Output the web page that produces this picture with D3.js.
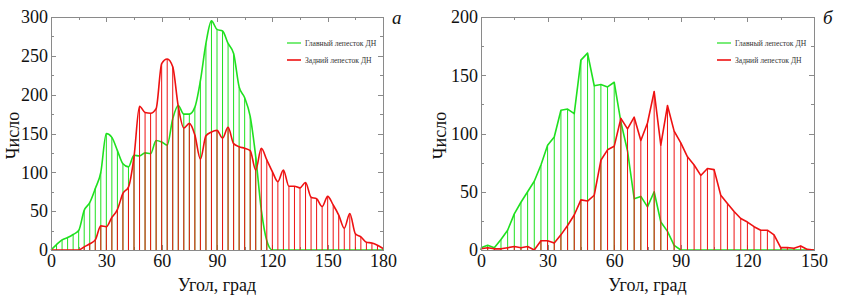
<!DOCTYPE html>
<html lang="ru">
<head>
<meta charset="utf-8">
<title>Гистограммы углов</title>
<script src="https://cdn.jsdelivr.net/npm/d3@7"></script>
<style>
  body { margin: 0; background: #fff; }
  svg text { font-family: "Liberation Serif", "Times New Roman", serif; fill: #111; }
  .axis path, .axis line { stroke: #8a8a8a; shape-rendering: crispEdges; }
  .axis text { font-size: 18px; }
  .legend text { font-size: 7.6px; fill: #333; }
</style>
</head>
<body>
<script>
// panel а: 0..180 deg, step 3
var anglesA = [0,3,6,9,12,15,18,21,24,27,30,33,36,39,42,45,48,51,54,57,60,63,66,69,72,75,78,81,84,87,
  90,93,96,99,102,105,108,111,114,117,120,123,126,129,132,135,138,141,144,147,150,153,156,159,162,165,168,171,174,177,180];
var mainA = [0,7,13,16,20,25, 51,61,79,100,150,145,128,111,107,122, 121,125,124,141,139,135,169,186,175,175,
  184,218,266,295,284,282,266,253,210,196, 172,120,52,12,0,0,0,0,0,0, 0,0,0,0,0,0,0,0,0,0, 0,0,0,0,0];
var backA = [0,0,0,0,0,0, 4,8,13,31,30,42,52,73,81,120, 185,177,176,182,240,246,236,185,157,163,
  148,117,147,152,154,144,158,137,133,131, 128,103,131,116,101,88,103,82,82,80, 87,68,66,56,69,58,45,28,47,21, 17,10,9,6,2];

// panel б: 0..150 deg, step 3
var anglesB = [0,3,6,9,12,15,18,21,24,27,30,33,36,39,42,45,48,51,54,57,60,63,66,69,72,75,78,81,84,87,
  90,93,96,99,102,105,108,111,114,117,120,123,126,129,132,135,138,141,144,147,150];
var mainB = [2,4,2,9,17,31,41,50,59,73, 90,97,120,121,117,163,169,141,142,140, 144,110,85,44,46,37,50,24,16,4,
  0,0,0,0,0,0,0,0,0,0, 0,0,0,0,0,0,0,0,0,0, 0];
var backB = [1,2,1,1,2,3,2,3,0,8, 8,6,13,21,30,43,42,47,77,86, 89,113,104,114,94,109,136,90,124,102,
  92,80,73,64,70,69,47,40,33,27, 24,20,17,17,13,2,2,1.5,3.5,0.5, 0];

var xTicksA = [0,30,60,90,120,150,180];
var yTicksA = [0,50,100,150,200,250,300];
var xTicksB = [0,30,60,90,120,150];
var yTicksB = [0,50,100,150,200];
var legendNames = ["Главный лепесток ДН", "Задний лепесток ДН"];

var green = "#1fe01f", red = "#ee1111";

var svg = d3.select("body").append("svg")
  .attr("width", 841)
  .attr("height", 296);

function drawPanel(p) {
  var x = d3.scaleLinear().domain([0, p.xMax]).range([p.left, p.right]);
  var y = d3.scaleLinear().domain([0, p.yMax]).range([p.bottom, p.top]);
  var g = svg.append("g");

  var xMinor = d3.range(15, p.xMax, 30);
  var yMinor = d3.range(25, p.yMax, 50);

  // minor ticks on all sides
  g.append("g").attr("class", "axis").attr("transform", "translate(0," + p.bottom + ")")
    .call(d3.axisBottom(x).tickValues(xMinor).tickSize(-3).tickSizeOuter(0).tickFormat(""));
  g.append("g").attr("class", "axis").attr("transform", "translate(0," + p.top + ")")
    .call(d3.axisTop(x).tickValues(xMinor).tickSize(-3).tickSizeOuter(0).tickFormat(""));
  g.append("g").attr("class", "axis").attr("transform", "translate(" + p.left + ",0)")
    .call(d3.axisLeft(y).tickValues(yMinor).tickSize(-3).tickSizeOuter(0).tickFormat(""));
  g.append("g").attr("class", "axis").attr("transform", "translate(" + p.right + ",0)")
    .call(d3.axisRight(y).tickValues(yMinor).tickSize(-3).tickSizeOuter(0).tickFormat(""));

  // major ticks
  g.append("g").attr("class", "axis").attr("transform", "translate(0," + p.bottom + ")")
    .call(d3.axisBottom(x).tickValues(p.xTicks).tickSize(-5).tickSizeOuter(0).tickPadding(4));
  g.append("g").attr("class", "axis").attr("transform", "translate(0," + p.top + ")")
    .call(d3.axisTop(x).tickValues(p.xTicks).tickSize(-5).tickSizeOuter(0).tickFormat(""));
  g.append("g").attr("class", "axis").attr("transform", "translate(" + p.left + ",0)")
    .call(d3.axisLeft(y).tickValues(p.yTicks).tickSize(-5).tickSizeOuter(0).tickPadding(3));
  g.append("g").attr("class", "axis").attr("transform", "translate(" + p.right + ",0)")
    .call(d3.axisRight(y).tickValues(p.yTicks).tickSize(-5).tickSizeOuter(0).tickFormat(""));

  // drop lines + curves, back lobe drawn over main lobe
  var series = [{v: p.main, c: green}, {v: p.back, c: red}];
  var line = d3.line()
    .x(function (d, i) { return x(p.angles[i]); })
    .y(function (d) { return y(d); })
    .curve(p.curve);

  series.forEach(function (s) {
    g.append("g").selectAll("line")
      .data(s.v)
      .enter().append("line")
      .attr("x1", function (d, i) { return x(p.angles[i]); })
      .attr("x2", function (d, i) { return x(p.angles[i]); })
      .attr("y1", y(0))
      .attr("y2", function (d) { return y(d); })
      .attr("stroke", s.c)
      .attr("stroke-width", 1);
    g.append("path")
      .datum(s.v)
      .attr("fill", "none")
      .attr("stroke", s.c)
      .attr("stroke-width", 1.6)
      .attr("stroke-linejoin", "round")
      .attr("d", line);
  });

  // legend
  var lg = g.append("g").attr("class", "legend");
  [green, red].forEach(function (c, i) {
    var ly = p.legY + i * 17;
    lg.append("line")
      .attr("x1", p.legX).attr("x2", p.legX + 14)
      .attr("y1", ly).attr("y2", ly)
      .attr("stroke", c).attr("stroke-width", i ? 1.6 : 1.2);
    lg.append("text")
      .attr("x", p.legX + 18).attr("y", ly + 2.6)
      .text(legendNames[i]);
  });

  // panel letter
  g.append("text")
    .attr("x", p.right + 9).attr("y", p.top + 7)
    .style("font-size", "19px").style("font-style", "italic")
    .text(p.letter);

  // axis titles
  g.append("text")
    .attr("x", (p.left + p.right) / 2).attr("y", 291)
    .attr("text-anchor", "middle")
    .style("font-size", "18px")
    .text("Угол, град");
  g.append("text")
    .attr("transform", "translate(" + p.yTitleX + "," + ((p.top + p.bottom) / 2 + 2) + ") rotate(-90)")
    .attr("text-anchor", "middle")
    .style("font-size", "18px")
    .text("Число");

  // frame edges
  g.append("rect")
    .attr("x", p.left).attr("y", p.top)
    .attr("width", p.right - p.left).attr("height", p.bottom - p.top)
    .attr("fill", "none").attr("stroke", "#8a8a8a")
    .attr("shape-rendering", "crispEdges");
}

drawPanel({left: 51, right: 383, top: 17, bottom: 250, xMax: 180, yMax: 300,
  xTicks: xTicksA, yTicks: yTicksA, angles: anglesA, main: mainA, back: backA,
  curve: d3.curveMonotoneX, legX: 287, legY: 43, letter: "а", yTitleX: 19});

drawPanel({left: 481, right: 814, top: 17, bottom: 250, xMax: 150, yMax: 200,
  xTicks: xTicksB, yTicks: yTicksB, angles: anglesB, main: mainB, back: backB,
  curve: d3.curveLinear, legX: 717, legY: 43, letter: "б", yTitleX: 446});
</script>
</body>
</html>
